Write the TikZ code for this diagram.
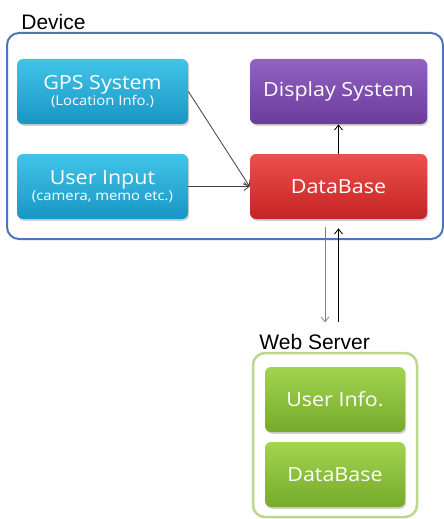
\documentclass[tikz,border=0pt]{standalone}
\usepackage{fontspec}
\usepackage{tikz}
\usetikzlibrary{positioning,shapes,arrows,arrows.meta,shadows}
\newfontfamily\boxfont[FakeStretch=1.1]{Open Sans}
\newfontfamily\labelfont{Liberation Sans}
\definecolor{cyantop}{RGB}{66,196,232}
\definecolor{cyanbot}{RGB}{24,150,196}
\definecolor{purpletop}{RGB}{146,98,194}
\definecolor{purplebot}{RGB}{108,60,156}
\definecolor{redtop}{RGB}{236,80,76}
\definecolor{redbot}{RGB}{196,36,36}
\definecolor{greentop}{RGB}{162,212,80}
\definecolor{greenbot}{RGB}{118,170,42}
\definecolor{devblue}{RGB}{76,118,184}
\definecolor{wsgreen}{RGB}{190,214,140}
\tikzstyle{blk}=[%
      rectangle, rounded corners=6pt, draw=none, drop shadow={opacity=0.35, shadow xshift=1.2pt, shadow yshift=-1.8pt},
      text=white, align=center, inner sep=2pt, font=\boxfont
]
\tikzstyle{frame}=[%
      rectangle, rounded corners=12pt, fill=white, line width=2pt
]
\tikzstyle{ttl}=[%
      anchor=base west, inner sep=0pt, font=\labelfont\fontsize{21}{24}\selectfont
]
\newcommand{\bigtxt}[1]{\fontsize{19.5}{22}\selectfont #1}
\newcommand{\smltxt}[1]{\fontsize{13.5}{15}\selectfont #1}

\begin{document}
\begin{tikzpicture}[x=1pt, y=-1pt,
    >={Straight Barb[length=5pt,width=8pt]}, line width=0.8pt
  ]
    \useasboundingbox (0,0) rectangle (444,519);

    % Device
    \node[frame, draw=devblue, minimum width=436pt, minimum height=206pt] (device) at (225,136) {};
    \node[ttl] (devlabel) at (21,30) {Device};

    \node[blk, top color=cyantop, bottom color=cyanbot, minimum width=171pt, minimum height=65pt] (gps) at (102.5,91.5)
      {\bigtxt{GPS System}\\[0pt]\smltxt{(Location Info.)}};
    \node[blk, top color=cyantop, bottom color=cyanbot, minimum width=171pt, minimum height=65pt] (input) at (102.5,186.5)
      {\bigtxt{User Input}\\[0pt]\smltxt{(camera, memo etc.)}};
    \node[blk, top color=purpletop, bottom color=purplebot, minimum width=177pt, minimum height=65pt] (disp) at (338.5,91.5)
      {\bigtxt{Display System}};
    \node[blk, top color=redtop, bottom color=redbot, minimum width=177pt, minimum height=65pt] (db) at (338.5,186.5)
      {\bigtxt{DataBase}};

    % Web Server
    \node[frame, draw=wsgreen, line width=2.5pt, minimum width=164pt, minimum height=164pt] (ws) at (335,435) {};
    \node[ttl] (wslabel) at (259,349) {Web Server};

    \node[blk, top color=greentop, bottom color=greenbot, minimum width=140pt, minimum height=65pt] (info) at (335,399.5)
      {\bigtxt{User Info.}};
    \node[blk, top color=greentop, bottom color=greenbot, minimum width=140pt, minimum height=65pt] (wsdb) at (335,474.5)
      {\bigtxt{DataBase}};

    \draw[->, draw=black!75] (gps.east) -- (db.west);
    \draw[->, draw=black!75] (input.east) -- (db.west);
    \draw[->] (db.north) -- (disp.south);
    \draw[->, draw=black!50] ([xshift=-13.5pt,yshift=-8pt]db.south) -- ++(0,95);
    \draw[<-] ([yshift=-9pt]db.south) -- ++(0,94);

  \end{tikzpicture}
\end{document}
